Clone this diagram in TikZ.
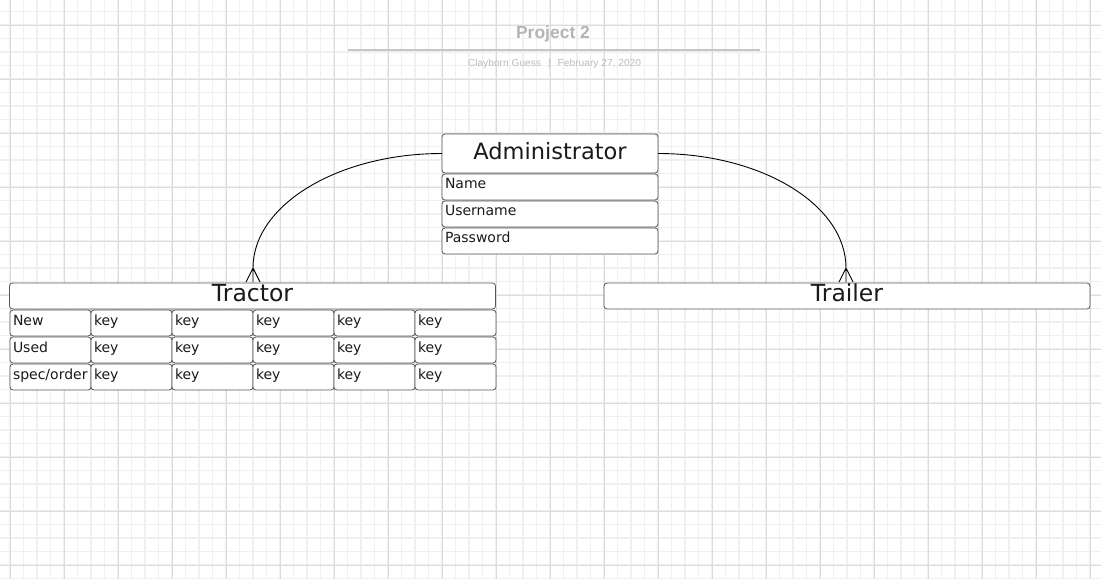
\documentclass[tikz,border=0pt]{standalone}
\usepackage{fontspec}
\setmainfont{DejaVu Sans}
\newfontfamily\titlefont{Liberation Sans}
\usetikzlibrary{calc}
\definecolor{gridminor}{HTML}{F0F0F0}
\definecolor{gridmajor}{HTML}{DCDCDC}
\definecolor{bord}{HTML}{555555}
\definecolor{titlegray}{HTML}{B4B4B4}
\definecolor{subgray}{HTML}{BDBDBD}
\definecolor{rulegray}{HTML}{C6C6C6}
\definecolor{txt}{HTML}{1A1A1A}
\tikzset{
  ent/.style={draw=bord, line width=0.8pt, rounded corners=3pt, fill=white,
    inner sep=0pt, outer sep=0pt, text=txt},
  hdr/.style={ent, font=\fontsize{22.5}{26}\selectfont, align=center},
  row/.style={ent, font=\fontsize{14}{16}\selectfont, anchor=north west,
    inner xsep=3pt, align=left},
  minorln/.style={gridminor, line width=1.5pt},
  majorln/.style={gridmajor, line width=0.9pt},
  rel/.style={black, line width=0.9pt},
}
\begin{document}
\begin{tikzpicture}[x=1pt,y=-1pt]
\fill[white] (0,0) rectangle (1101,579);
\useasboundingbox (0,0) rectangle (1101,579);
% grid
\foreach \i in {-1,...,81} \draw[minorln] ({10+13.5*\i},0) -- ({10+13.5*\i},579);
\foreach \j in {-2,...,41} \draw[minorln] (0,{25+13.5*\j}) -- (1101,{25+13.5*\j});
\foreach \i in {0,...,20} \draw[majorln] ({10+54*\i},0) -- ({10+54*\i},579);
\foreach \j in {0,...,10} \draw[majorln] (0,{25+54*\j}) -- (1101,{25+54*\j});

% title block
\node[font=\titlefont\bfseries\fontsize{17.5}{20}\selectfont, text=titlegray] (title) at (553,33.5) {Project 2};
\coordinate (ruleL) at (348,50);
\coordinate (ruleR) at (760,50);
\draw[rulegray, line width=2pt] (ruleL) -- (ruleR);
\node[font=\titlefont\fontsize{10.2}{12}\selectfont, text=subgray] (sub) at (554.5,63.5)
  {Clayborn Guess\hspace{7pt}|\hspace{7pt}February 27, 2020};

% Administrator
\node[hdr, minimum width=216pt, text height=25pt, text depth=14pt] (admin) at (550,153.5) {Administrator};
\node[row, text width=210pt, text height=14pt, text depth=12pt] (aname) at (442,174) {Name};
\node[row, text width=210pt, text height=14pt, text depth=12pt] (auser) at (442,201) {Username};
\node[row, text width=210pt, text height=14pt, text depth=12pt] (apass) at (442,228) {Password};

% Tractor
\node[hdr, font=\fontsize{23.5}{26}\selectfont, minimum width=486pt, text height=18pt, text depth=8pt] (tractor) at (252.5,296) {Tractor};
\foreach \lab [count=\r from 0] in {New,Used,spec/order}{
  \node[row, text width=75pt, text height=15pt, text depth=11pt] (c-\r-0) at (10,{310+27*\r}) {\lab};
  \foreach \c in {1,...,5}{
    \node[row, text width=75pt, text height=15pt, text depth=11pt] (c-\r-\c) at ({10+81*\c},{310+27*\r}) {key};
  }
}

% Trailer
\node[hdr, font=\fontsize{23.5}{26}\selectfont, minimum width=486pt, text height=18pt, text depth=8pt] (trailer) at (847,296) {Trailer};

% relationships
\coordinate (tfoot) at ($(tractor.north)+(0.5,-15)$);
\coordinate (rfoot) at ($(trailer.north)+(-1,-15)$);
\draw[rel] (admin.west) .. controls +(-104,0) and +(0,-63) .. (tfoot);
\draw[rel] (tfoot) -- ($(tfoot)+(-7,14)$) (tfoot) -- ($(tfoot)+(0,14)$) (tfoot) -- ($(tfoot)+(7,14)$);
\draw[rel] (admin.east) .. controls +(104,0) and +(0,-63) .. (rfoot);
\draw[rel] (rfoot) -- ($(rfoot)+(-7,14)$) (rfoot) -- ($(rfoot)+(0,14)$) (rfoot) -- ($(rfoot)+(7,14)$);
\end{tikzpicture}
\end{document}
